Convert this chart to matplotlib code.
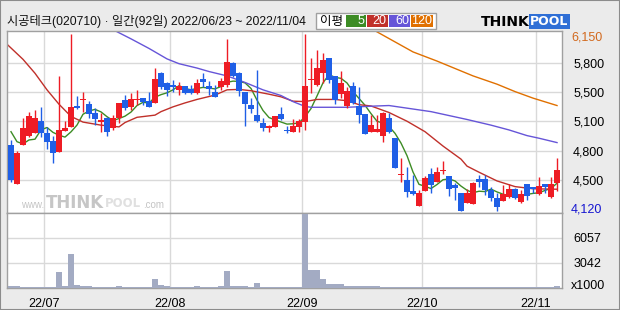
import matplotlib
matplotlib.use('Agg')
import matplotlib.pyplot as plt
import matplotlib.patches as mpatches
import matplotlib.transforms as mtransforms
import numpy as np
import pandas as pd

plt.rcParams['font.family'] = ['Liberation Sans', 'Noto Sans CJK KR', 'DejaVu Sans']

title = '시공테크(020710) · 일간(92일) 2022/06/23 ~ 2022/11/04'
holidays = ['2022-08-15', '2022-09-09', '2022-09-12', '2022-10-03', '2022-10-10']

opens = [4875, 4430, 4875, 4980, 5020, 5155, 5010, 4925, 4800, 5040,
         5085, 5330, 5395, 5345, 5240, 5145, 5185, 5070, 5185, 5395,
         5315, 5390, 5415, 5385, 5360, 5700, 5590, 5565, 5510, 5555,
         5525, 5470, 5640, 5555, 5485, 5540, 5565, 5815, 5700, 5485,
         5335, 5220, 5125, 5075, 5085, 5235, 5045, 5030, 5080, 5145,
         5620, 5565, 5700, 5875, 5670, 5460, 5325, 5555, 5325, 5235,
         5030, 5030, 4980, 5185, 4955, 4530, 4475, 4350, 4180, 4355,
         4545, 4455, 4575, 4525, 4420, 4330, 4215, 4195, 4485, 4485,
         4360, 4265, 4240, 4285, 4370, 4220, 4430, 4390, 4310, 4430,
         4285, 4445]
highs = [4935, 4810, 5185, 5260, 5280, 5315, 5085, 4980, 5670, 5155,
         6150, 5440, 5485, 5385, 5300, 5240, 5200, 5220, 5360, 5450,
         5470, 5510, 5415, 5490, 5760, 5720, 5600, 5620, 5600, 5555,
         5565, 5630, 5700, 5615, 5565, 5650, 6095, 5825, 5720, 5485,
         5415, 5740, 5185, 5105, 5210, 5310, 5095, 5170, 5170, 6150,
         5870, 5965, 5930, 5875, 5670, 5725, 5545, 5600, 5540, 5235,
         5220, 5220, 5260, 5240, 4955, 4725, 4630, 4535, 4360, 4525,
         4610, 4630, 4695, 4525, 4440, 4330, 4370, 4455, 4535, 4535,
         4400, 4325, 4420, 4430, 4380, 4360, 4430, 4400, 4515, 4430,
         4515, 4730]
lows = [4455, 4430, 4875, 4970, 5010, 4970, 4830, 4675, 4800, 5040,
        5080, 5285, 5260, 5185, 5105, 5030, 4980, 5055, 5135, 5280,
        5280, 5335, 5335, 5315, 5355, 5525, 5440, 5490, 5450, 5460,
        5460, 5460, 5545, 5450, 5430, 5510, 5545, 5660, 5440, 5100,
        5240, 5145, 5040, 5030, 5085, 5165, 5020, 5030, 5030, 5055,
        5475, 5555, 5590, 5590, 5345, 5415, 5300, 5345, 5135, 5005,
        5030, 5030, 4915, 5020, 4610, 4455, 4285, 4305, 4180, 4355,
        4330, 4455, 4550, 4295, 4245, 4125, 4210, 4195, 4400, 4305,
        4240, 4120, 4240, 4265, 4255, 4215, 4245, 4325, 4305, 4325,
        4275, 4355]
closes = [4475, 4780, 5070, 5210, 5185, 5010, 4915, 4790, 5050, 5075,
          5310, 5305, 5410, 5235, 5170, 5165, 5030, 5185, 5355, 5305,
          5400, 5405, 5370, 5315, 5640, 5545, 5510, 5540, 5555, 5475,
          5475, 5585, 5600, 5515, 5430, 5610, 5825, 5670, 5500, 5345,
          5290, 5155, 5075, 5095, 5210, 5170, 5035, 5095, 5150, 5555,
          5640, 5760, 5850, 5620, 5395, 5585, 5495, 5360, 5220, 5005,
          5105, 5060, 5250, 5030, 4610, 4545, 4340, 4310, 4325, 4495,
          4420, 4570, 4585, 4370, 4380, 4125, 4330, 4445, 4455, 4360,
          4265, 4170, 4315, 4370, 4265, 4315, 4290, 4370, 4405, 4400,
          4430, 4590]
prev_closes = [5355, 5195, 4985, 5140]

# volume, x1000 shares
volumes = [300, 300, 150, 150, 150, 150, 150, 150, 1900, 300,
           4040, 420, 300, 300, 150, 150, 150, 150, 300, 150,
           150, 150, 150, 150, 1025, 420, 300, 150, 150, 150,
           150, 300, 150, 150, 150, 300, 1990, 300, 300, 300,
           150, 580, 150, 150, 150, 150, 150, 150, 150, 8860,
           2110, 2110, 1025, 540, 460, 540, 300, 300, 300, 300,
           300, 300, 150, 150, 150, 150, 150, 150, 150, 150,
           150, 150, 150, 150, 150, 150, 150, 150, 150, 150,
           150, 150, 150, 150, 150, 150, 150, 150, 150, 150,
           150, 300]

ma20_idx = [-1, 0, 2, 4, 6, 8, 10, 12, 15, 18, 19, 21, 24, 25, 27, 29, 31, 34, 36, 38,
            40, 43, 45, 47, 49, 51, 54, 56, 58, 60, 63, 66, 69, 72, 75, 76, 78,
            81, 84, 87, 91]
ma20_val = [6055, 5990, 5860, 5700, 5510, 5345, 5205, 5140, 5105, 5085, 5135, 5195, 5220,
            5260, 5315, 5360, 5400, 5450, 5510, 5515, 5500, 5460, 5430, 5380, 5375,
            5400, 5400, 5385, 5340, 5325, 5250, 5150, 5030, 4865, 4715, 4635, 4565,
            4465, 4400, 4375, 4370]
ma60_idx = [17, 20, 23, 26, 28, 31, 33, 36, 39, 42, 45, 47, 49, 50, 56, 61, 63, 66,
            70, 73, 76, 80, 83, 86, 88, 91]
ma60_val = [6200, 6095, 5985, 5865, 5810, 5760, 5720, 5670, 5595, 5510, 5445, 5375,
            5320, 5310, 5310, 5325, 5330, 5300, 5260, 5215, 5170, 5105, 5050, 4985,
            4955, 4905]
ma120_idx = [61, 64, 67, 71, 74, 77, 81, 84, 87, 91]
ma120_val = [6175, 6060, 5945, 5840, 5755, 5670, 5575, 5490, 5415, 5330]

price_grid = [5815, 5480, 5150, 4810, 4475]
price_grid_labels = ['5,800', '5,500', '5,100', '4,800', '4,500']
vol_grid = [3042, 6057]

ma_names = ['5', '20', '60', '120']
ma_colors = ['#3d8c25', '#c0302a', '#6655d8', '#e07000']

# --- prep
dates = pd.bdate_range('2022-06-23', '2022-11-04')
dates = dates[~dates.isin(pd.to_datetime(holidays))]
n = len(dates)
idx = np.arange(n)
o = np.array(opens, float); c = np.array(closes, float)
h = np.array(highs, float); l = np.array(lows, float)
ma5 = pd.Series(prev_closes + closes).rolling(5).mean().values[len(prev_closes):]

month_start = [i for i in range(1, n) if dates[i].month != dates[i - 1].month]
month_lbl = [dates[i].strftime('%y/%m') for i in month_start]

W, H = 620, 310
def fx(x): return x / W
def fy(y): return 1 - y / H

bg = '#ebebeb'
fig = plt.figure(figsize=(6.2, 3.1), dpi=100, facecolor=bg)
fig.patches.append(mpatches.Rectangle((0, 0), 1, 1, transform=fig.transFigure,
                                      fill=False, edgecolor='#8c8c8c', lw=1.5))

left, right = 6.5, 562
ax = fig.add_axes([fx(left), fy(212.5), fx(right - left), (212.5 - 31) / H])
axv = fig.add_axes([fx(left), fy(288), fx(right - left), (288 - 212.5) / H])

grid_c = '#d9d9d9'
for a in (ax, axv):
    a.set_xlim(-0.75, 91.83)
    for s in a.spines.values():
        s.set_color('#a0a0a0')
        s.set_linewidth(1)
    a.set_xticks([i - 0.5 for i in month_start])
    a.tick_params(length=0)
    a.xaxis.grid(True, color=grid_c, lw=1)
    a.yaxis.grid(True, color=grid_c, lw=1)
    a.set_axisbelow(True)

# price panel
ax.set_ylim(4103, 6185)
ax.set_xticklabels([])
ax.yaxis.tick_right()
ax.set_yticks(price_grid)
ax.set_yticklabels(price_grid_labels, fontsize=9)
ax.tick_params(axis='y', pad=8)
tr = mtransforms.blended_transform_factory(ax.transAxes, ax.transData)
ax.text(1 + 9 / 555.5, 6108, '6,150', transform=tr, fontsize=9, color='#d2691e', va='center')
ax.text(1 + 9 / 555.5, 4140, '4,120', transform=tr, fontsize=9, color='#1515d0', va='center')

# watermark
fig.text(fx(21), fy(205.5), 'www.', fontsize=7, color='#c4c4c4', va='center')
fig.text(fx(46), fy(203), 'THINK', fontsize=12, color='#c6c6c6', weight='bold', va='center',
         family='DejaVu Sans')
fig.text(fx(105), fy(203.5), 'POOL', fontsize=8.5, color='#e0e0e0', weight='bold', va='center',
         family='DejaVu Sans')
fig.text(fx(143), fy(205.5), '.com', fontsize=7, color='#c4c4c4', va='center')

ax.plot(idx, ma5, color=ma_colors[0], lw=1, zorder=2)
ax.plot(ma20_idx, ma20_val, color=ma_colors[1], lw=1, zorder=2)
ax.plot(ma60_idx, ma60_val, color=ma_colors[2], lw=1, zorder=2)
ax.plot(ma120_idx, ma120_val, color=ma_colors[3], lw=1, zorder=2)

up = c >= o
col = np.where(up, '#ee1c24', '#1f5fe6')
body_lo = np.minimum(o, c)
body_h = np.maximum(np.abs(c - o), 10)
ax.vlines(idx, l, h, colors=col, lw=1, zorder=3)
ax.bar(idx, body_h, bottom=body_lo, width=0.86, color=col, lw=0, zorder=4)

# volume panel
axv.bar(idx, volumes, width=0.86, color='#a3abc3', lw=0, zorder=3)
axv.set_ylim(0, 9100)
axv.yaxis.tick_right()
axv.set_yticks(vol_grid)
axv.set_yticklabels([str(v) for v in vol_grid], fontsize=9)
axv.tick_params(axis='y', pad=8)
axv.set_xticklabels(month_lbl, fontsize=9)
axv.tick_params(axis='x', pad=7)
trv = mtransforms.blended_transform_factory(axv.transAxes, axv.transData)
axv.text(1 + 9 / 555.5, 200, 'x1000', transform=trv, fontsize=9, va='center')

# header
fig.text(fx(7), fy(21.5), title, fontsize=8.8, va='center', color='#111111')

lg = mpatches.Rectangle((fx(316), fy(29.3)), fx(119.7), 16.6 / H, transform=fig.transFigure,
                        facecolor='white', edgecolor='#a0a0a0', lw=1)
fig.patches.append(lg)
fig.text(fx(320), fy(21), '이평', fontsize=9, va='center', family='Noto Sans CJK KR')
box_x = [346, 367, 389, 411.3]
box_w = [19.7, 20.7, 21, 21.4]
for bx, bw, name, cc in zip(box_x, box_w, ma_names, ma_colors):
    fig.patches.append(mpatches.Rectangle((fx(bx), fy(27.3)), fx(bw), 12 / H,
                                          transform=fig.transFigure, facecolor=cc, lw=0))
    fig.text(fx(bx + bw - 1), fy(21.5), name, fontsize=9, color='white', ha='right', va='center')

fig.text(fx(481), fy(21.5), 'THINK', fontsize=10, weight='bold', color='black', va='center',
         family='DejaVu Sans')
fig.text(fx(530), fy(21.5), 'POOL', fontsize=9, weight='bold', color='white', va='center',
         family='DejaVu Sans',
         bbox=dict(boxstyle='square,pad=0.1', facecolor='#2f6fd6', edgecolor='none'))

fig.savefig('out.png', dpi=100, facecolor=bg)
